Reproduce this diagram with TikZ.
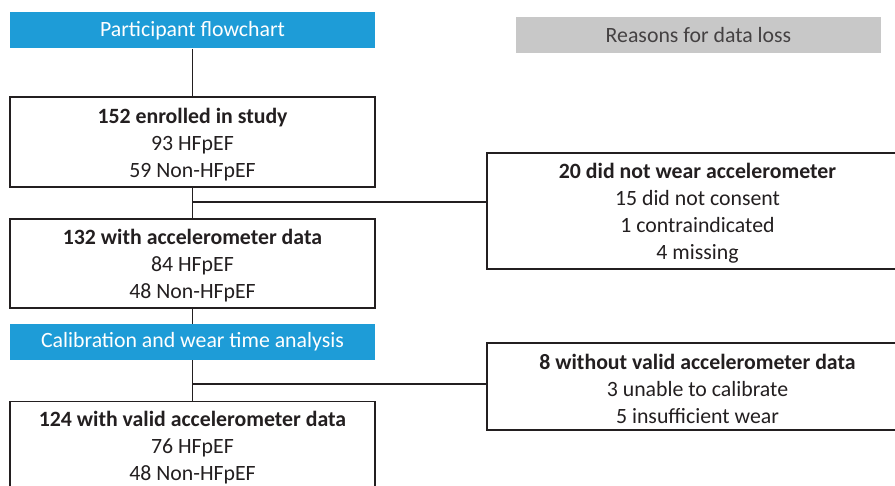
\documentclass[tikz,border=0pt]{standalone}
\usepackage{fontspec}
\setmainfont{Carlito}
\definecolor{hblue}{HTML}{1E9CD7}
\definecolor{hgray}{HTML}{C8C8C8}
\definecolor{ink}{HTML}{231F20}
\newcommand{\tallstrut}{\rule{0pt}{20.5pt}}
\begin{document}
\begin{tikzpicture}[x=1pt,y=-1pt,
  every node/.style={font=\fontsize{21.8}{27}\selectfont, text=ink, align=center, inner sep=0pt},
  header/.style={rectangle, fill=hblue, text=white, minimum width=365pt, minimum height=36pt},
  grayhead/.style={rectangle, fill=hgray, text=ink!85, minimum width=365pt, minimum height=36pt},
  flowbox/.style={rectangle, draw=ink, line width=1.6pt, minimum width=365pt},
  lossbox/.style={rectangle, draw=ink, line width=1.6pt, minimum width=421pt},
  link/.style={draw=ink, line width=1.3pt}]
\clip (0,0) rectangle (895,486);
\fill[white] (0,0) rectangle (895,486);
\node[header] (h1) at (192.5,30.5) {\raisebox{-2pt}{Participant flowchart}};
\node[grayhead] (g1) at (698.5,35) {\raisebox{-2pt}{Reasons for data loss}};
\node[flowbox, minimum height=90pt] (b1) at (192.5,142) {\tallstrut\textbf{152 enrolled in study}\\93 HFpEF\\59 Non-HFpEF};
\node[flowbox, minimum height=89pt] (b2) at (192.5,263.5) {\tallstrut\textbf{132 with accelerometer data}\\84 HFpEF\\48 Non-HFpEF};
\node[header] (h2) at (192.5,342) {\raisebox{-2pt}{Calibration and wear time analysis}};
\node[flowbox, minimum height=92pt] (b3) at (192.5,447.5) {\textbf{124 with valid accelerometer data}\\76 HFpEF\\48 Non-HFpEF};
\node[lossbox, minimum height=116pt] (r1) at (697.5,211) {\tallstrut\textbf{20 did not wear accelerometer}\\15 did not consent\\1 contraindicated\\4 missing};
\node[lossbox, minimum height=87pt] (r2) at (697.5,386.5) {\tallstrut\textbf{8 without valid accelerometer data}\\3 unable to calibrate\\5 insufficient wear};
\coordinate (c1) at (192.5,202);
\coordinate (c2) at (192.5,384);
\draw[link] (h1.south) -- (b1.north);
\draw[link] (b1.south) -- (b2.north);
\draw[link] (b2.south) -- (h2.north);
\draw[link] (h2.south) -- (b3.north);
\draw[link] (c1) -- (c1 -| r1.west);
\draw[link] (c2) -- (c2 -| r2.west);
\end{tikzpicture}
\end{document}
